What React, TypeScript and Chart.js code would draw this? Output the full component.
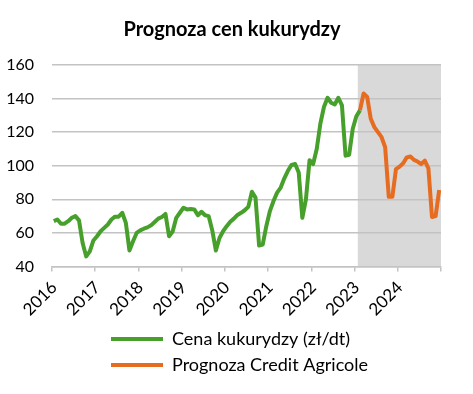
import React, { useEffect, useRef } from 'react';
import { Chart, registerables } from 'chart.js';

Chart.register(...registerables);

// Monthly series, Jan 2016 – Dec 2024 (index 0 = Jan 2016)
const yearLabels = ['2016', '2017', '2018', '2019', '2020', '2021', '2022', '2023', '2024'];

// Cena kukurydzy (zł/dt), Jan 2016 – Feb 2023
const priceHistory = [
  67, 68, 65.5, 65.5, 67, 69, 70, 67.5, 54, 46,
  49, 55.5, 58, 61, 63, 65, 68, 69.7, 69.7, 72,
  66, 49.5, 55, 60, 61.5, 62.5, 63.3, 64.5, 66.5, 68.5,
  69.5, 71.3, 58, 60.8, 69, 72, 75, 74, 74.2, 74,
  70.5, 72.6, 70.5, 70, 61.5, 49.5, 57, 61, 64, 66.7,
  68.5, 70.7, 72, 73.5, 75.5, 84.5, 81, 52.5, 53, 64,
  73, 79, 84, 87, 92.5, 97, 100.5, 101, 96, 69,
  80, 103.3, 101, 110, 125, 135, 140.5, 137.5, 136.5, 140.5,
  136, 106, 106.5, 122, 129.5, 133,
];

// Prognoza Credit Agricole, Feb 2023 – Dec 2024
const forecastStart = 85;
const forecast = [
  133, 143, 141, 128, 123, 120, 117, 111, 81.5, 81.5,
  98, 99.5, 101.5, 105, 105.5, 103.5, 102.5, 101, 103, 98.5,
  69.5, 70, 85.5,
];

const shadeStart = 84.4; // forecast period shading begins
const monthsTotal = 108;
const yMin = 40;
const yMax = 160;
const yStep = 20;

const GREEN = '#47A02B';
const ORANGE = '#E66C22';
const GRID = '#c3c3c3';
const FONT = 'Lato';

export default function App() {
  const ref = useRef<HTMLCanvasElement>(null);

  useEffect(() => {
    if (!ref.current) return;
    const shade = {
      id: 'shade',
      beforeDraw(chart: any) {
        const { ctx, chartArea, scales } = chart;
        const x = scales.x;
        const x0 = x.getPixelForValue(shadeStart);
        const x1 = x.getPixelForValue(x.max);
        ctx.save();
        ctx.fillStyle = '#d9d9d9';
        ctx.fillRect(x0, chartArea.top, x1 - x0, chartArea.bottom - chartArea.top);
        ctx.restore();
      },
    };
    // left-align the stacked legend rows under the plot
    const legendPlace = {
      id: 'legendPlace',
      beforeDraw(chart: any) {
        const lg = chart.legend;
        if (!lg) return;
        const w = lg.right - lg.left;
        lg.left = 103;
        lg.right = lg.left + w;
      },
    };

    const yearTicks = Array.from({ length: yearLabels.length + 1 }, (_, k) => k * 12 - 0.5);

    const chart = new Chart(ref.current, {
      type: 'line',
      data: {
        datasets: [
          {
            label: 'Cena kukurydzy (zł/dt)',
            data: priceHistory.map((v, i) => ({ x: i, y: v })),
            borderColor: GREEN,
            backgroundColor: GREEN,
            borderWidth: 4,
            pointRadius: 0,
            borderJoinStyle: 'round',
            tension: 0,
          },
          {
            label: 'Prognoza Credit Agricole',
            data: forecast.map((v, i) => ({ x: i + forecastStart, y: v })),
            borderColor: ORANGE,
            backgroundColor: ORANGE,
            borderWidth: 4,
            pointRadius: 0,
            borderJoinStyle: 'round',
            tension: 0,
          },
        ],
      },
      options: {
        responsive: true,
        maintainAspectRatio: false,
        animation: false,
        layout: { padding: { left: 5, right: 14, top: 0, bottom: 10 } },
        plugins: {
          tooltip: { enabled: false },
          title: {
            display: true,
            text: 'Prognoza cen kukurydzy',
            color: '#000',
            font: { family: FONT, size: 20, weight: 'bold' },
            padding: { top: 18, bottom: 23 },
          },
          legend: {
            position: 'bottom',
            align: 'start',
            labels: {
              boxWidth: 52,
              boxHeight: 4,
              padding: 8,
              color: '#000',
              font: { family: FONT, size: 18 },
              generateLabels: (c: any) =>
                Chart.defaults.plugins.legend.labels.generateLabels(c).map((l: any) => ({ ...l, lineWidth: 0 })),
            },
          },
        },
        scales: {
          x: {
            type: 'linear',
            min: -0.5,
            max: monthsTotal - 0.5,
            afterBuildTicks: (s: any) => {
              s.ticks = yearTicks.map((v) => ({ value: v }));
            },
            afterFit: (s: any) => {
              s.paddingLeft = 0;
              s.paddingRight = 32;
              s.height = 55.5;
              s._computeLabelArea = () => undefined;
            },
            ticks: {
              autoSkip: false,
              minRotation: 45,
              maxRotation: 45,
              color: '#000',
              padding: 6,
              labelOffset: 2,
              font: { family: FONT, size: 17 },
              callback: (v: any) => yearLabels[Math.round((Number(v) + 0.5) / 12)] ?? '',
            },
            grid: { drawOnChartArea: false, tickLength: 5, color: GRID, lineWidth: 1.5 },
            border: { color: GRID, width: 1.5 },
          },
          y: {
            min: yMin,
            max: yMax,
            afterFit: (s: any) => {
              s.width = 47;
            },
            ticks: { stepSize: yStep, padding: 18, color: '#000', font: { family: FONT, size: 16 } },
            grid: { color: GRID, lineWidth: 1.5, drawTicks: false },
            border: { display: false },
          },
        },
      },
      plugins: [shade, legendPlace],
    } as any);
    return () => chart.destroy();
  }, []);

  return (
    <div style={{ position: 'fixed', left: 0, top: 0, width: 473, height: 394, background: '#fff' }}>
      <canvas ref={ref} />
    </div>
  );
}
